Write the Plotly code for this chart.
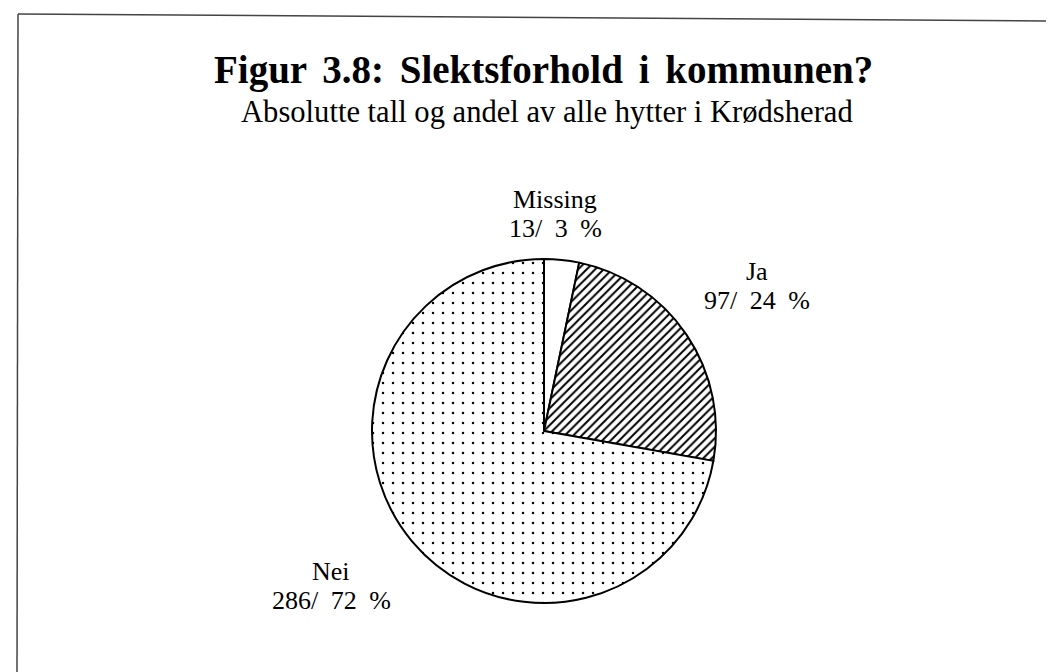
import plotly.graph_objects as go

categories = ["Missing", "Ja", "Nei"]
counts = [13, 97, 286]
percents = [3, 24, 72]

title_text = "Figur 3.8: Slektsforhold i kommunen?"
subtitle_text = "Absolutte tall og andel av alle hytter i Krødsherad"

W, H = 1054, 672
FONT = "Liberation Serif, Times New Roman, serif"

def px(x):
    return x / W

def py(y):
    return 1 - y / H

# pie geometry (pixels)
cx, cy, r = 536, 423, 172

fig = go.Figure()
fig.add_trace(go.Pie(
    labels=categories,
    values=counts,
    sort=False,
    direction="clockwise",
    rotation=0,
    textinfo="none",
    hoverinfo="label+value+percent",
    showlegend=False,
    domain=dict(x=[px(cx - r), px(cx + r)], y=[py(cy + r), py(cy - r)]),
    marker=dict(
        colors=["white", "white", "white"],
        line=dict(color="black", width=2),
        pattern=dict(
            shape=["", "/", "."],
            fgcolor="black",
            bgcolor="white",
            size=[8, 6, 10],
            solidity=[0.3, 0.33, 0.05],
        ),
    ),
))

# label positions (pixel centre x, baseline of second line)
label_pos = [(547, 229), (749, 301), (323, 601)]
fs = 26
for name, n, p, (lx, ly) in zip(categories, counts, percents, label_pos):
    fig.add_annotation(x=px(lx), y=py(ly - 29 - 0.34 * fs), xref="paper", yref="paper",
                       text=name, showarrow=False, xanchor="center", yanchor="middle",
                       font=dict(family=FONT, size=fs, color="black"))
    fig.add_annotation(x=px(lx), y=py(ly - 0.34 * fs), xref="paper", yref="paper",
                       text=f"<span style='word-spacing:6px'>{n}/ {p} %</span>",
                       showarrow=False, xanchor="center", yanchor="middle",
                       font=dict(family=FONT, size=fs, color="black"))

fig.add_annotation(x=px(535), y=py(75 - 0.34 * 39), xref="paper", yref="paper",
                   text=f"<span style='word-spacing:6px'><b>{title_text}</b></span>",
                   showarrow=False, xanchor="center", yanchor="middle",
                   font=dict(family=FONT, size=39, color="black"))
fig.add_annotation(x=px(539), y=py(114 - 0.34 * 30.6), xref="paper", yref="paper",
                   text=subtitle_text, showarrow=False, xanchor="center", yanchor="middle",
                   font=dict(family=FONT, size=30.6, color="black"))

# frame (left and top edges of the scanned box)
fig.add_shape(type="line", xref="paper", yref="paper", x0=px(10), y0=py(6), x1=1, y1=py(13),
              line=dict(color="#444", width=1.5))
fig.add_shape(type="line", xref="paper", yref="paper", x0=px(10), y0=py(6), x1=px(9), y1=0,
              line=dict(color="#444", width=1.5))

fig.update_layout(
    width=W, height=H,
    margin=dict(l=0, r=0, t=0, b=0),
    paper_bgcolor="white",
    plot_bgcolor="white",
)

fig.write_html("out.html")
